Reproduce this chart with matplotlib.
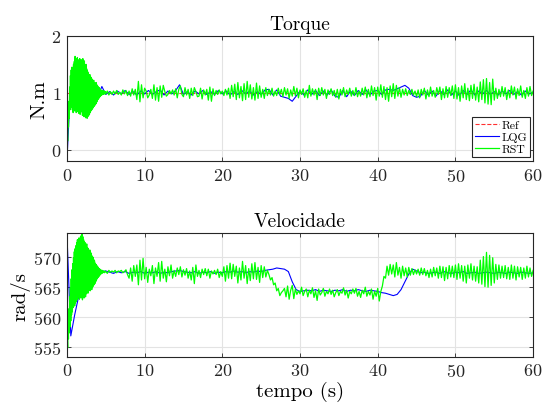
import numpy as np
import matplotlib
matplotlib.use("Agg")
import matplotlib.pyplot as plt

plt.rcParams['font.family'] = ['cmr10', 'DejaVu Serif']
plt.rcParams['mathtext.fontset'] = 'cm'
plt.rcParams['axes.unicode_minus'] = False
plt.rcParams['axes.formatter.use_mathtext'] = True

# ---------------- data ----------------
torque_ref = 1.0
torque_base = 1.0
# RST torque start-up, deviation from 1 in hundredths, every 0.05 s (0..4.95 s)
rst_torque_start_dev = [
    -100, -70, -85, -40, -60, -15, -45, 10, -30, 30, -20, 40, -25, 45, -30, 35, -35, 50, -30, 55,
    -32, 64, -28, 60, -35, 52, -30, 62, -33, 58, -36, 55, -30, 60, -38, 50, -34, 58, -30, 56,
    -40, 60, -35, 52, -42, 56, -38, 48, -44, 50, -40, 42, -45, 38, -42, 35, -40, 30, -38, 32,
    -35, 28, -32, 26, -30, 24, -28, 20, -26, 22, -24, 18, -22, 16, -20, 18, -18, 14, -15, 12,
    -12, 10, -10, 9, -8, 7, -6, 5, -5, 4, -4, 3, -3, 4, -3, 2, -2, 3, -2, 2,
]
# RST torque, deviation from 1 in hundredths, every 0.2 s (5..60 s)
rst_torque_dev = [
    -2, 3, -4, 2, -3,
    3, -2, 4, -3, 1,
    -4, 5, -2, 4, -5,
    3, -6, 7, -4, 6,
    -12, 20, -16, 14, -9,
    8, 3, -9, -4, 6,
    -10, 14, -13, 9, -15,
    12, -8, 13, 2, -6,
    -3, 4, -2, 5, -4,
    7, -9, 6, 12, -3,
    -7, 9, -4, 6, -10,
    8, -5, 9, 2, -7,
    -6, 8, -11, 5, -4,
    6, -13, 10, -15, 7,
    -5, 4, -3, 5, -2,
    3, -5, 6, -4, 8,
    -10, 13, -7, 15, -12,
    18, -9, 11, -14, 16,
    -12, 20, -8, 14, -11,
    9, -13, 17, -10, 12,
    -8, 6, -10, 9, -5,
    6, -4, 8, -6, 3,
    -5, 8, -3, 6, -7,
    9, -4, 7, -10, 5,
    -6, 11, -5, 8, -9,
    5, -3, 7, -8, 4,
    -9, 13, -6, 7, -4,
    6, -12, 8, -5, 9,
    -4, 6, -10, 5, -3,
    7, -5, 4, -8, 6,
    -11, 6, -4, 9, -7,
    5, -3, 8, -6, 4,
    -5, 9, -7, 3, -6,
    8, -4, 10, -9, 6,
    -7, 12, -5, 9, -13,
    10, -6, 14, -8, 11,
    -12, 9, -15, 12, -7,
    16, -10, 13, -6, 9,
    -8, 6, -4, 7, -5,
    4, -3, 6, -4, 3,
    -7, 5, -9, 6, -4,
    8, -11, 5, -7, 10,
    -6, 4, -8, 9, -3,
    10, -12, 7, -9, 11,
    -8, 9, -5, 12, -10,
    14, -11, 9, -15, 12,
    -9, 16, -12, 8, -14,
    13, -10, 15, -13, 10,
    -16, 19, -12, 23, -18,
    25, -20, 18, -21, 24,
    -13, 8, -10, 6, -7,
    11, -6, 9, -12, 5,
    -9, 12, -4, 10, -11,
    7, -5, 12, -8, 4,
    -10, 9, -6, 11, -5,
    3,
]
# LQG torque, deviation from 1 in hundredths, every 0.5 s
lqg_torque_dev = [
    -120, 20, -25, 20, -30, -35, -22, 8, -6, 11,
    -3, 2, -4, 3, -2, 4, -3, 2, -4, 3,
    -2, 4, -3, 2, 5, -4, 3, -2, 4, 14,
    -3, 2, -4, 3, -2, 4, -3, 2, -3, 4,
    -2, 3, -4, 2, -3, 4, -2, 3, -4, 2,
    -3, 5, 6, -4, 5, -6, -8, -10, -15, -6,
    3, -4, 5, -3, 4, -5, 3, -4, 5, -6,
    -8, 4, -7, 3, -5, 4, -3, 5, -4, 3,
    4, -3, 5, 6, 4, 7, 10, 13, 8, -5,
    -8, -6, 4, -4, 3, -6, 4, -3, 5, -4,
    3, -5, 4, -3, 5, -4, 3, -2, 4, -3,
    2, -4, 3, -2, 4, -3, 2, -4, 3, -2,
    1,
]

speed_base = 567.3
# RST speed start-up, deviation from 567.3 in tenths of rad/s, every 0.05 s (0..4.95 s)
rst_speed_start_dev = [
    -139, -110, -125, -85, -110, -60, -100, -40, -90, -25, -80, -10, -70, 5, -65, 15, -58, 25, -55, 35,
    -55, 40, -50, 45, -48, 50, -45, 55, -42, 52, -40, 58, -44, 56, -40, 60, -42, 62, -40, 66,
    -45, 60, -40, 55, -42, 52, -38, 50, -40, 45, -35, 48, -32, 42, -34, 40, -30, 36, -28, 38,
    -30, 34, -26, 32, -28, 28, -24, 26, -22, 22, -20, 20, -18, 16, -15, 14, -12, 12, -10, 10,
    -8, 9, -6, 7, -5, 6, -3, 5, -2, 4, -1, 4, 0, 3, 1, 3, 0, 2, 1, 3,
]
# RST speed, deviation from 567.3 in tenths of rad/s, every 0.2 s (5..60 s)
rst_speed_dev = [
    2, -1, 4, 1, 3,
    1, 4, 0, 3, 2,
    4, 0, 2, 5, -3,
    -9, 8, -14, 12, -6,
    13, -20, 21, -12, 24,
    -10, 9, -16, 6, -5,
    12, -18, 8, -6, 17,
    -14, 19, -9, 6, -15,
    10, -5, 13, -9, 4,
    -6, 8, -3, 10, -7,
    5, -4, 7, -9, 3,
    -12, 9, -18, 13, -6,
    4, -8, 6, -3, 7,
    -5, 6, -9, 3, -2,
    4, -3, 6, -8, 2,
    -6, 10, -14, 12, -9,
    16, -10, 14, -6, 11,
    -17, 8, -12, 19, -9,
    12, -18, 7, -13, 15,
    -10, 17, -11, 9, -16,
    12, -8, 10, -7, 4,
    -3, -12, -8, -20, -17,
    -30, -26, -38, -33, -30,
    -26, -40, -22, -44, -29,
    -21, -43, -27, -36, -30,
    -35, -24, -38, -31, -27,
    -40, -29, -35, -25, -41,
    -30, -46, -27, -37, -33,
    -26, -39, -31, -35, -27,
    -36, -29, -40, -33, -28,
    -38, -31, -34, -25, -37,
    -29, -42, -31, -35, -27,
    -34, -26, -39, -31, -41,
    -29, -35, -24, -39, -31,
    -37, -27, -44, -31, -39,
    -26, -47, -31, -22, -6,
    -9, 11, -4, 14, -2,
    13, -7, 17, -4, 9,
    -9, 11, -5, 8, -7,
    9, -4, 7, -3, 5,
    -2, 6, -4, 8, -3,
    7, -5, 4, -8, 6,
    -7, 9, -5, 8, -9,
    11, -8, 10, -13, 9,
    -10, 12, -7, 11, -8,
    13, -11, 15, -9, 12,
    -14, 11, -17, 13, -9,
    15, -12, 11, -14, 10,
    -17, 21, -19, 27, -23,
    34, -24, 29, -21, 25,
    -17, 14, -11, 13, -9,
    11, -8, 12, -10, 9,
    -11, 13, -9, 11, -12,
    10, -7, 9, -11, 8,
    -9, 11, -7, 8, -6,
    4,
]
# LQG speed, deviation from 567.3 in tenths of rad/s, every 0.5 s
lqg_speed_dev = [
    66, -105, -70, -40, -20, -5, 10, 5, -3, 2,
    3, 1, -1, 2, 0, 2, -1, 1, 0, 2,
    -1, 1, 0, 2, -1, 1, 0, 2, 3, 4,
    2, 1, 0, 2, -1, 1, 0, 2, -1, 1,
    0, 2, 1, 3, 1, 2, 0, 2, 1, 3,
    2, 4, 5, 6, 8, 7, 6, 2, -15, -28,
    -31, -30, -29, -30, -28, -31, -29, -30, -31, -29,
    -30, -28, -31, -29, -30, -28, -30, -31, -29, -30,
    -31, -33, -34, -36, -38, -36, -28, -15, -2, 6,
    3, 0, 1, -1, 0, 1, -1, 2, 0, -1,
    1, 0, 2, -1, 0, 1, -1, 0, 1, 0,
    -1, 1, 0, -1, 1, 0, -1, 1, 0, -1,
    0,
]

x_ticks = [0, 10, 20, 30, 40, 50, 60]
torque_ticks = [0, 1, 2]
speed_ticks = [555, 560, 565, 570]

# ---------------- derived series ----------------
def rst_time(n_start, n_rest):
    return np.concatenate([np.arange(n_start) * 0.05, np.linspace(5, 60, n_rest)])

rst_torque = torque_base + np.array(rst_torque_start_dev + rst_torque_dev) / 100.0
lqg_torque = torque_base + np.array(lqg_torque_dev) / 100.0
rst_speed = speed_base + np.array(rst_speed_start_dev + rst_speed_dev) / 10.0
lqg_speed = speed_base + np.array(lqg_speed_dev) / 10.0
t_rst_tq = rst_time(len(rst_torque_start_dev), len(rst_torque_dev))
t_lqg_tq = np.linspace(0, 60, len(lqg_torque))
t_rst_sp = rst_time(len(rst_speed_start_dev), len(rst_speed_dev))
t_lqg_sp = np.linspace(0, 60, len(lqg_speed))

# ---------------- figure ----------------
fig = plt.figure(figsize=(5.44, 4.10), dpi=100)
ax1 = fig.add_axes([0.123, 0.605, 0.857, 0.305])
ax2 = fig.add_axes([0.123, 0.127, 0.857, 0.302])

grid_c = '#e3e3e3'
spine_c = '#262626'

ax1.plot([0, 60], [torque_ref, torque_ref], '--', color='#ff3030', lw=0.8, label='Ref')
ax1.plot(t_lqg_tq, lqg_torque, color='#0000ff', lw=0.8, label='LQG')
ax1.plot(t_rst_tq, rst_torque, color='#00ff00', lw=0.9, label='RST')

ax2.plot(t_lqg_sp, lqg_speed, color='#0000ff', lw=0.8)
ax2.plot(t_rst_sp, rst_speed, color='#00ff00', lw=0.9)

for ax in (ax1, ax2):
    ax.set_xlim(0, 60)
    ax.set_xticks(x_ticks)
    ax.grid(True, color=grid_c, lw=0.8)
    ax.set_axisbelow(True)
    ax.tick_params(direction='in', top=True, right=True, labelsize=13,
                   colors=spine_c, length=3, width=0.6, pad=4)
    for s in ax.spines.values():
        s.set_color(spine_c)
        s.set_linewidth(0.8)

ax1.set_ylim(-0.2, 2)
ax1.set_yticks(torque_ticks)
ax2.set_ylim(553.3, 573.9)
ax2.set_yticks(speed_ticks)

ax1.set_title('Torque', fontsize=14, pad=5)
ax2.set_title('Velocidade', fontsize=14, pad=5)
ax1.set_ylabel('N.m', fontsize=15, labelpad=2)
ax2.set_ylabel('rad/s', fontsize=15, labelpad=2)
ax2.set_xlabel('tempo (s)', fontsize=15, labelpad=1)

leg = ax1.legend(loc='lower right', bbox_to_anchor=(0.993, 0.03), borderaxespad=0,
                 fontsize=8.5, handlelength=2.0, handletextpad=0.2, labelspacing=0.15,
                 borderpad=0.25, fancybox=False, framealpha=1)
leg.get_frame().set_edgecolor('#262626')
leg.get_frame().set_linewidth(0.8)

fig.savefig('out.png', dpi=100)
